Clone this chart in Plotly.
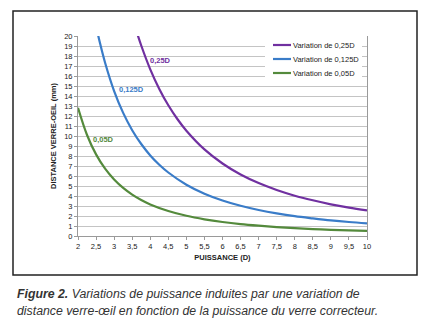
import plotly.graph_objects as go

# Values (power in D, distance in mm)
p_025 = [3.6, 3.75, 4.0, 4.25, 4.5, 4.75, 5.0, 5.5, 6.0, 6.5, 7.0, 7.5, 8.0, 8.5, 9.0, 9.5, 10.0]
d_025 = [20.7, 19.05, 16.67, 14.71, 13.07, 11.70, 10.53, 8.66, 7.25, 6.15, 5.29, 4.60, 4.03, 3.57, 3.17, 2.84, 2.56]

p_0125 = [2.55, 2.6, 2.75, 3.0, 3.25, 3.5, 3.75, 4.0, 4.25, 4.5, 5.0, 5.5, 6.0, 6.5, 7.0, 7.5, 8.0, 8.5, 9.0, 9.5, 10.0]
d_0125 = [20.2, 19.42, 17.32, 14.49, 12.31, 10.58, 9.20, 8.06, 7.13, 6.35, 5.13, 4.23, 3.55, 3.02, 2.60, 2.26, 1.98, 1.76, 1.56, 1.40, 1.27]

p_005 = [2.0, 2.25, 2.5, 2.75, 3.0, 3.25, 3.5, 3.75, 4.0, 4.5, 5.0, 5.5, 6.0, 6.5, 7.0, 7.5, 8.0, 8.5, 9.0, 9.5, 10.0]
d_005 = [12.82, 10.10, 8.16, 6.73, 5.65, 4.81, 4.14, 3.60, 3.16, 2.50, 2.02, 1.67, 1.40, 1.19, 1.03, 0.895, 0.786, 0.696, 0.621, 0.557, 0.503]

series_names = ["Variation de 0,25D", "Variation de 0,125D", "Variation de 0,05D"]
curve_labels = ["0,25D", "0,125D", "0,05D"]
label_pos = [(3.95, 17.6), (3.08, 14.7), (2.36, 9.7)]
colors = ["#7030A0", "#3A7CC8", "#548A3C"]

x_tickvals = [2 + 0.5 * i for i in range(17)]
x_ticktext = [("%g" % v).replace(".", ",") for v in x_tickvals]
y_tickvals = list(range(0, 21))

caption_l1 = "<b>Figure 2.</b> Variations de puissance induites par une variation de"
caption_l2 = "distance verre-œil en fonction de la puissance du verre correcteur."

FONT = "Liberation Sans, Arial"

fig = go.Figure()
for xs, ys, name, col in zip([p_025, p_0125, p_005], [d_025, d_0125, d_005], series_names, colors):
    fig.add_trace(go.Scatter(x=xs, y=ys, mode="lines", name=name, showlegend=False,
                             line=dict(color=col, width=2.2, shape="spline"),
                             cliponaxis=True))

for (lx, ly), txt, col in zip(label_pos, curve_labels, colors):
    fig.add_annotation(x=lx, y=ly, text="<b>" + txt + "</b>", showarrow=False,
                       xanchor="left", yanchor="middle",
                       font=dict(family=FONT, size=7.5, color=col))

L, R, T, B = 78, 367, 36, 236
W, H = 431, 335


def px_x(px):
    return (px - L) / (R - L)


def px_y(py):
    return (B - py) / (B - T)


# outer frame
fig.add_shape(type="rect", xref="paper", yref="paper",
              x0=px_x(13), x1=px_x(417), y0=px_y(275), y1=px_y(11),
              line=dict(color="#222222", width=1.5), fillcolor="rgba(0,0,0,0)", layer="below")

# legend box (white background over gridlines) and entries
fig.add_shape(type="rect", xref="paper", yref="paper",
              x0=px_x(265), x1=px_x(362), y0=px_y(81), y1=px_y(38),
              line=dict(width=0), fillcolor="white", layer="above")
legend_rows = [45, 59, 73]
for name, col, py in zip(series_names, colors, legend_rows):
    fig.add_shape(type="line", xref="paper", yref="paper",
                  x0=px_x(273), x1=px_x(291), y0=px_y(py), y1=px_y(py),
                  line=dict(color=col, width=2.2), layer="above")
    fig.add_annotation(xref="paper", yref="paper", x=px_x(291), y=px_y(py),
                       text=name, showarrow=False, xanchor="left", yanchor="middle",
                       font=dict(family=FONT, size=7.5, color="#222222"))

fig.add_annotation(xref="paper", yref="paper", x=px_x(15), y=px_y(294),
                   text="<i>" + caption_l1 + "</i>", showarrow=False,
                   xanchor="left", yanchor="middle",
                   font=dict(family=FONT, size=12.3, color="#333333"))
fig.add_annotation(xref="paper", yref="paper", x=px_x(15), y=px_y(311),
                   text="<i>" + caption_l2 + "</i>", showarrow=False,
                   xanchor="left", yanchor="middle",
                   font=dict(family=FONT, size=12.3, color="#333333"))

fig.update_layout(
    width=W, height=H,
    margin=dict(l=L, r=W - R, t=T, b=H - B),
    paper_bgcolor="white", plot_bgcolor="white",
    showlegend=False,
    font=dict(family=FONT, size=7.5, color="#222222"),
)

fig.update_xaxes(range=[2, 10], tickvals=x_tickvals, ticktext=x_ticktext,
                 showgrid=False, zeroline=False,
                 showline=True, linecolor="#9a9a9a", linewidth=1,
                 ticks="outside", ticklen=3, tickcolor="#9a9a9a",
                 tickfont=dict(size=7.5, color="#222222"),
                 title=dict(text="<b>PUISSANCE (D)</b>", font=dict(size=7.5, color="#222222"), standoff=4))
fig.update_yaxes(range=[0, 20], tickvals=y_tickvals,
                 showgrid=True, gridcolor="#c4c4c4", gridwidth=1, zeroline=False,
                 showline=True, linecolor="#9a9a9a", linewidth=1, mirror=True,
                 ticks="outside", ticklen=3, tickcolor="#9a9a9a",
                 tickfont=dict(size=7.5, color="#222222"),
                 title=dict(text="<b>DISTANCE VERRE-OEIL (mm)</b>", font=dict(size=7.5, color="#222222"), standoff=6))

fig.write_html("out.html")
